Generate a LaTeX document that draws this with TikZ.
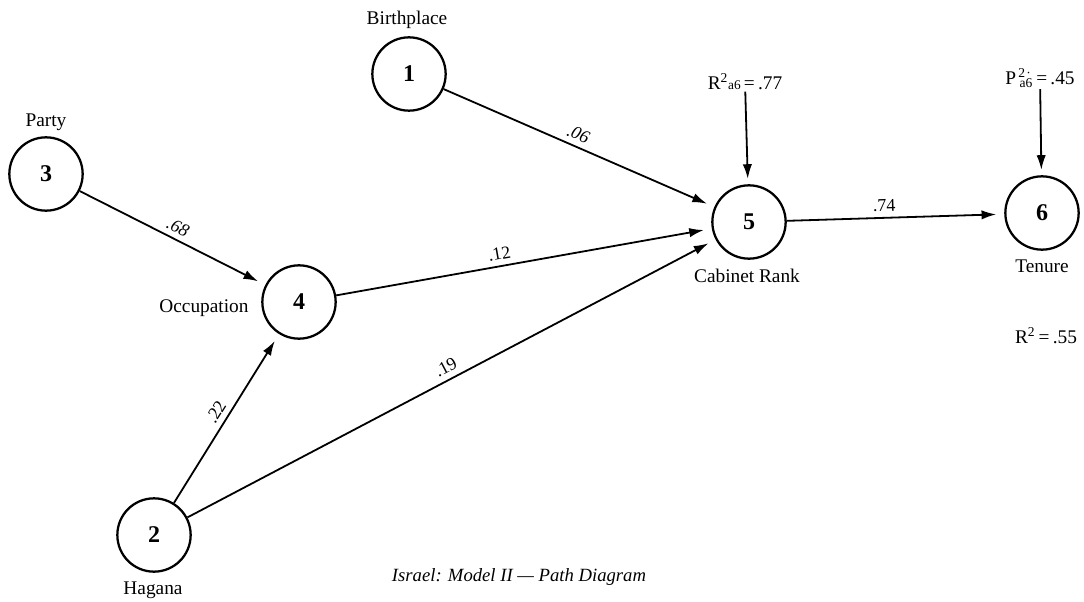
\documentclass[tikz,border=0pt]{standalone}
\usepackage{fontspec}
\setmainfont{Liberation Serif}
\usetikzlibrary{arrows.meta}

\tikzset{
  var/.style={circle, draw, line width=1.7pt, minimum size=55pt, inner sep=0pt,
    font=\fontsize{18}{20}\selectfont\bfseries},
  lbl/.style={font=\fontsize{14.5}{16}\selectfont},
  coef/.style={font=\fontsize{13.5}{15}\selectfont, sloped, above=3pt, inner sep=1pt},
  arr/.style={-{Latex[length=11pt,width=7pt]}, line width=1.35pt, shorten >=6pt}
}

\begin{document}
\begin{tikzpicture}[x=0.75pt, y=-0.75pt]
    \useasboundingbox (0,0) rectangle (1084,602);

    % Draw variables
    \node[var] (n1) at (409,74) {1};
    \node[var] (n3) at (46,174) {3};
    \node[var] (n4) at (299,302) {4};
    \node[var] (n2) at (154,535) {2};
    \node[var] (n5) at (749,222) {5};
    \node[var] (n6) at (1042,213) {6};

    % Draw names
    \node[lbl] (t1) at (407,20) {Birthplace};
    \node[lbl] (t3) at (46,122) {Party};
    \node[lbl] (t4) at (204,308) {Occupation};
    \node[lbl] (t2) at (153,590) {Hagana};
    \node[lbl] (t5) at (747,276) {Cabinet Rank};
    \node[lbl] (t6) at (1042,266) {Tenure};

    % Draw residual terms
    \node[lbl, inner sep=1pt] (r5) at (745,82) {R\textsuperscript{2}{\fontsize{10}{12}\selectfont a6}\,=\,.77};
    \node[lbl, inner sep=1pt] (r6) at (1040,78) {P\textsuperscript{\,2\kern1pt·}\kern-9pt\textsubscript{a6}\,=\,.45};
    \node[lbl] (rsq) at (1046,336) {R\textsuperscript{2}\,=\,.55};

    % Draw paths
    \draw[arr] (n1) -- (n5) node[coef, pos=0.48] {\itshape .06};
    \draw[arr] (n3) -- (n4) node[coef, pos=0.5] {\itshape .68};
    \draw[arr] (n4) -- (n5) node[coef, pos=0.44] {.12};
    \draw[arr] (n2) -- (n5) node[coef, pos=0.5] {.19};
    \draw[arr] (n2) -- (n4) node[coef, pos=0.5] {.22};
    \draw[arr] (n5) -- (n6) node[coef, pos=0.45] {.74};
    \draw[arr, shorten >=4pt] (r5) -- (n5);
    \draw[arr, shorten >=4pt] (r6) -- (n6);

    % Draw caption
    \node[lbl, font=\fontsize{14}{16}\selectfont\itshape] (cap) at (519,577) {Israel: Model II --- Path Diagram};

\end{tikzpicture}
\end{document}
